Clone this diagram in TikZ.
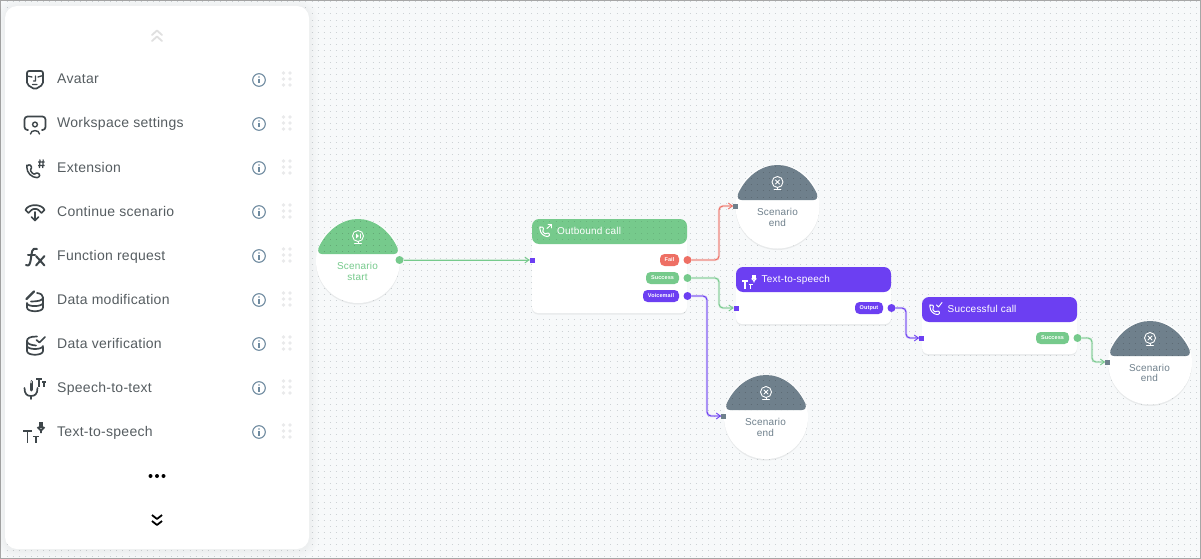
\documentclass[tikz,border=0pt]{standalone}
\usepackage{fontspec}
\setmainfont[LetterSpace=2]{Liberation Sans}
\usetikzlibrary{arrows.meta,shadows,calc}
\definecolor{gr}{HTML}{76CA8C}
\definecolor{rd}{HTML}{EE6F64}
\definecolor{pu}{HTML}{6C3FF2}
\definecolor{gy}{HTML}{6F808C}
\definecolor{bgc}{HTML}{F7F9FA}
\definecolor{dotc}{HTML}{CDD2D5}
\definecolor{ink}{HTML}{3E464A}
\definecolor{txt}{HTML}{565D61}
\definecolor{infoc}{HTML}{6F8BA0}
\definecolor{grip}{HTML}{E9EAEB}
\newcommand{\fs}[1]{\fontsize{#1}{#1}\selectfont}
\tikzset{
  softshadow/.style={drop shadow={opacity=.12,shadow xshift=0pt,shadow yshift=-1.5pt}},
  cardbox/.style={anchor=north west,inner sep=0pt,outer sep=0pt,fill=white,rounded corners=6pt,minimum width=155pt,softshadow},
  headbox/.style={anchor=north west,inner sep=0pt,outer sep=0pt,rounded corners=7pt,minimum width=155pt,minimum height=25pt},
  headtext/.style={anchor=base west,inner sep=0pt,text=white,font=\fs{10}},
  roundbox/.style={circle,inner sep=0pt,outer sep=0pt,fill=white,minimum size=84pt,softshadow},
  roundtext/.style={anchor=center,inner sep=0pt,align=center,font=\fs{10}},
  pill/.style={anchor=east,inner sep=0pt,outer sep=0pt,rounded corners=4.5pt,minimum height=12pt,text=white,font=\bfseries\fs{5.5}},
  outport/.style={circle,inner sep=0pt,outer sep=0pt,minimum size=8pt},
  inport/.style={rectangle,inner sep=0pt,outer sep=0pt,minimum size=5pt},
  conn/.style={draw=#1,line width=.9pt,rounded corners=4pt,-{Straight Barb[length=4pt,width=6pt,line width=.9pt]},
    preaction={draw=#1,draw opacity=.3,line width=2.2pt,-}},
  itemtext/.style={anchor=base west,inner sep=0pt,text=txt,font=\fs{14}},
  ic/.style={line width=1.7pt,line cap=round,line join=round,color=ink},
  dotrow/.style={line width=1pt,dash pattern=on 1pt off 5.1pt},
}
\newcommand{\dotrows}[1]{\foreach \j in {0,...,91}{\draw[dotrow,#1] (0.4,1.8+6.1*\j) -- (1201,1.8+6.1*\j);}}
\newcommand{\domepath}{(-39.5,-6) .. controls (-31,-25) and (-15,-35) .. (0,-35) .. controls (15,-35) and (31,-25) .. (39.5,-6) .. controls (40.5,-2.5) and (39,0) .. (36,0) -- (-36,0) .. controls (-39,0) and (-40.5,-2.5) .. (-39.5,-6) -- cycle}
\newcommand{\phonepath}{(-7,-5) -- (-4,-7) -- (-1.5,-3.5) -- (-3.5,-1.5) .. controls (-2.5,1.5) and (-.5,3) .. (1.5,3.5) -- (3.5,1.5) -- (7,4) -- (5,7) .. controls (-2,7) and (-7,2) .. (-7,-5) -- cycle}
\newcommand{\capdome}[3]{\fill[#3,shift={(#1,#2)}] \domepath;
 \begin{scope}\clip[shift={(#1,#2)}] \domepath; \dotrows{draw=black,draw opacity=.16}\end{scope}}
\newcommand{\xbadge}[2]{\begin{scope}[shift={(#1,#2)},white,line width=.9pt,line cap=round]
 \draw (0,0) circle (5.5);
 \draw (-2,-2) -- (2,2) (2,-2) -- (-2,2);
 \draw (0,5.5) -- (0,7) (-3.5,7) -- (3.5,7);
\end{scope}}
\newcommand{\playbadge}[2]{\begin{scope}[shift={(#1,#2)},white,line width=.9pt,line cap=round]
 \draw (0,0) circle (5.5);
 \fill (-2,-2.5) -- (1,0) -- (-2,2.5) -- cycle;
 \draw (2,-2.2) -- (2,2.2);
 \draw (0,5.5) -- (0,7) (-3.5,7) -- (3.5,7);
\end{scope}}
\newcommand{\phonecard}[3]{\begin{scope}[shift={(#1,#2)},white,line width=1pt,line cap=round,line join=round]
 \draw[rounded corners=1pt,scale=.72] \phonepath;
 #3
\end{scope}}
\newcommand{\ttsicon}[4]{\begin{scope}[shift={(#1,#2)},scale=#3,#4]
 \draw (-12,0) -- (-3,0) (-7.5,0) -- (-7.5,12);
 \draw (-2,5.5) -- (4,5.5) (1,5.5) -- (1,12);
 \draw[line width=3.2pt] (6,-9) -- (6,-3);
 \draw (2.5,-4) -- (6,-.5) -- (9.5,-4) (6,-.5) -- (6,2);
\end{scope}}
\newcommand{\infogrip}[1]{
 \draw[infoc,line width=1.1pt] (259,#1+1) circle (6.3);
 \fill[infoc] (259,#1-2) circle (.9);
 \draw[infoc,line width=1.3pt] (259,#1) -- (259,#1+4.5);
 \foreach \gx in {283.5,290}{\foreach \gy in {-6,0,6}{\fill[grip] (\gx,#1+\gy) circle (1.9);}}
}
\begin{document}
\begin{tikzpicture}[x=1pt,y=-1pt]
\useasboundingbox (0,0) rectangle (1201,559);
\fill[bgc] (0,0) rectangle (1201,559);
\dotrows{draw=dotc}
\draw[black!35,line width=1pt] (.5,.5) rectangle (1200.5,558.5);
% panel with soft halo
\foreach \w in {18,14,10,6,3}{
  \draw[black,draw opacity=.007,line width=\w pt,rounded corners=12pt] (5,7) rectangle (309,550);
}
\fill[white,rounded corners=12pt] (5,6) rectangle (309,549);
\draw[black!12,line width=1.8pt,line cap=round,line join=round] (152,35) -- (157,30.5) -- (162,35) (152,41) -- (157,36.5) -- (162,41);
\node[itemtext] (i1) at (57,84) {Avatar};
\node[itemtext] (i2) at (57,128) {Workspace settings};
\node[itemtext] (i3) at (57,172) {Extension};
\node[itemtext] (i4) at (57,216) {Continue scenario};
\node[itemtext] (i5) at (57,260) {Function request};
\node[itemtext] (i6) at (57,304) {Data modification};
\node[itemtext] (i7) at (57,348) {Data verification};
\node[itemtext] (i8) at (57,392) {Speech-to-text};
\node[itemtext] (i9) at (57,436) {Text-to-speech};
\foreach \yy in {79,123,167,211,255,299,343,387,431}{\infogrip{\yy}}
% panel icons
\begin{scope}[ic]
 \draw[rounded corners=2pt] (27,71) -- (43,71) -- (43,84.5) -- (35,89.5) -- (27,84.5) -- cycle;
 \draw[line width=1.3pt] (27,76) -- (32,77) (38,77) -- (43,75.5) (35.5,76) -- (35.5,81) -- (33.5,81) (32.5,84.5) -- (37,84.5);
 \draw[rounded corners=3pt] (28,130) -| (24.5,116.5) -| (45.5,130) -- (42,130);
 \draw[line width=1.4pt] (35,124.5) circle (2.4);
 \draw[line width=1.4pt] (30.5,134) .. controls (30.5,129.5) and (39.5,129.5) .. (39.5,134);
 \begin{scope}[shift={(33.5,171)},rounded corners=1pt,line width=1.5pt]
  \draw[scale=.95] \phonepath;
 \end{scope}
 \draw[line width=1.2pt,line cap=butt] (38,162) -- (44.5,162) (38,165.5) -- (44.5,165.5) (40,159.5) -- (39.5,168) (43.2,159.5) -- (42.7,168);
 \draw[line join=round] (25.5,210) .. controls (28,203.5) and (42,203.5) .. (44.5,210) -- (41.5,213) -- (38.5,210) .. controls (37,208.5) and (33,208.5) .. (31.5,210) -- (28.5,213) -- cycle;
 \draw[line width=1.6pt] (35,212) -- (35,220.5) (31.5,217) -- (35,220.5) -- (38.5,217);
 \draw[line width=2pt] (37,249) .. controls (31.5,247.5) and (32,252) .. (31,258) .. controls (30,265) and (29,266.5) .. (26,265);
 \draw[line width=2pt] (28,255) -- (35,255);
 \draw[line width=2pt] (36,256) -- (44.5,265.5) (44.5,256) -- (36,265.5);
 \draw[line width=2.2pt] (26.5,299) -- (34,291.5);
 \draw (37,293) .. controls (41,293.5) and (43,295) .. (43,297.5) .. controls (43,300.5) and (38,301.5) .. (31,301.5);
 \draw (43,297.5) -- (43,307.5) .. controls (43,312.5) and (27,312.5) .. (27,307.5) -- (27,303);
 \draw (27,303.5) .. controls (28,307) and (42,307) .. (43,303);
 \draw (37,336.5) .. controls (30,336.5) and (27,338) .. (27,341) .. controls (27,344) and (31,345) .. (36,345.5);
 \draw (27,341) -- (27,351) .. controls (27,356) and (43,356) .. (43,351) -- (43,347);
 \draw (27,346) .. controls (28,350) and (42,350) .. (43,346);
 \draw (36.5,340) -- (39.5,342.5) -- (45,337);
 \draw[line width=3pt,line cap=round] (31,381.5) -- (31,390);
 \fill[white] (31,382) ellipse (.8 and 1.5);
 \draw (24.5,388) .. controls (24.5,394) and (27,396) .. (31,396) .. controls (35,396) and (37.5,394) .. (37.5,388);
 \draw (31,396) -- (31,399);
 \draw[line width=1.4pt,line cap=butt] (36,379) -- (42,379) (39,379) -- (39,387) (42,382) -- (46,382) (44,382) -- (44,387);
 \ttsicon{35}{431}{1}{line cap=butt,line width=1.8pt}
\end{scope}
\fill[black] (150.5,476) circle (2) (157,476) circle (2) (163.5,476) circle (2);
\draw[black,line width=1.8pt,line join=round] (152,515) -- (157,519) -- (162,515) (152,521) -- (157,525) -- (162,521);
% round nodes
\node[roundbox] (start) at (358,261) {};
\node[roundbox] (end1) at (777.5,206.5) {};
\node[roundbox] (end2) at (766,417) {};
\node[roundbox] (end3) at (1150,362.5) {};
\capdome{358}{254}{gr}
\capdome{777.5}{200}{gy}
\capdome{766}{410}{gy}
\capdome{1150}{356}{gy}
\playbadge{358}{236}
\xbadge{777.5}{182}
\xbadge{766}{392}
\xbadge{1150}{338}
\node[roundtext,text=gr] (t0) at (357.5,271.5) {Scenario\\[.2pt]start};
\node[roundtext,text=gy] (t1) at (777.5,217.5) {Scenario\\[.2pt]end};
\node[roundtext,text=gy] (t2) at (765.5,427.5) {Scenario\\[.2pt]end};
\node[roundtext,text=gy] (t3) at (1149.5,373) {Scenario\\[.2pt]end};
% cards
\node[cardbox,minimum height=94pt] (c1) at (532,219) {};
\node[headbox,fill=gr] (h1) at (532,219) {};
\begin{scope}\clip[rounded corners=7pt] (532,219) rectangle (687,244); \dotrows{draw=black,draw opacity=.10}\end{scope}
\node[headtext] (h1t) at (557,234) {Outbound call};
\node[cardbox,minimum height=57pt] (c2) at (736,267) {};
\node[headbox,fill=pu] (h2) at (736,267) {};
\node[headtext] (h2t) at (761.5,282.5) {Text-to-speech};
\node[cardbox,minimum height=57pt] (c3) at (922,297) {};
\node[headbox,fill=pu] (h3) at (922,297) {};
\node[headtext] (h3t) at (947.5,312.5) {Successful call};
\phonecard{545}{231.5}{\draw[line width=.9pt] (2,-3) -- (6.5,-7) (3,-7) -- (6.5,-7) -- (6.5,-3.5);}
\ttsicon{750}{281}{.65}{white,line width=1.3pt,line cap=butt}
\phonecard{935}{309.5}{\draw[line width=.9pt] (1.5,-4.5) -- (3.5,-2.5) -- (7,-7);}
% pills
\node[pill,fill=rd,minimum width=19pt] (p1) at (679,260) {Fail};
\node[pill,fill=gr,minimum width=33pt] (p2) at (679,278) {Success};
\node[pill,fill=pu,minimum width=36pt] (p3) at (679,296) {Voicemail};
\node[pill,fill=pu,minimum width=28pt] (p4) at (883,308) {Output};
\node[pill,fill=gr,minimum width=33pt] (p5) at (1069,338) {Success};
% ports
\node[outport,fill=gr] (o0) at (399.5,260) {};
\node[outport,fill=rd] (o1) at (687.5,260) {};
\node[outport,fill=gr] (o2) at (687.5,278) {};
\node[outport,fill=pu] (o3) at (687.5,296) {};
\node[outport,fill=pu] (o4) at (891.5,308) {};
\node[outport,fill=gr] (o5) at (1077.5,338) {};
\node[inport,fill=pu] (n1) at (532,260) {};
\node[inport,fill=pu] (n2) at (736,308) {};
\node[inport,fill=pu] (n3) at (921.5,338) {};
\node[inport,fill=gy] (n4) at (735.5,206) {};
\node[inport,fill=gy] (n5) at (723.5,416) {};
\node[inport,fill=gy] (n6) at (1107.5,362) {};
% connectors
\draw[conn=gr] (o0.east) -- (n1.west);
\draw[conn=rd] (o1.east) -- ++(27.5,0) |- (n4.west);
\draw[conn=gr] (o2.east) -- ++(27.5,0) |- (n2.west);
\draw[conn=pu] (o3.east) -- ++(15.5,0) |- (n5.west);
\draw[conn=pu] (o4.east) -- ++(10.5,0) |- (n3.west);
\draw[conn=gr] (o5.east) -- ++(10.5,0) |- (n6.west);
\end{tikzpicture}
\end{document}
